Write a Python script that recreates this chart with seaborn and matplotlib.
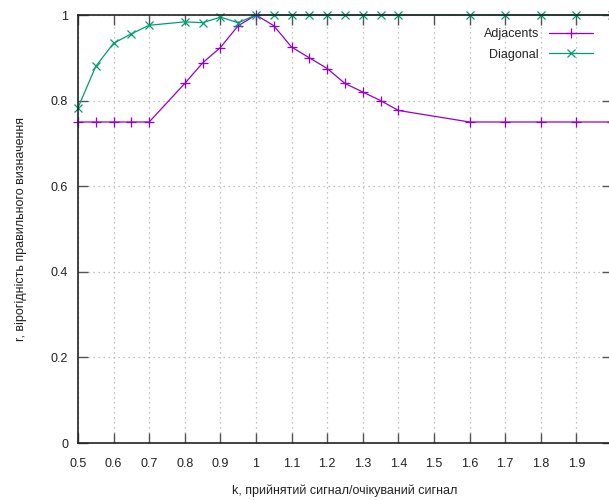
import seaborn as sns
import matplotlib.pyplot as plt
import pandas as pd

# data
adj_k = [0.5, 0.55, 0.6, 0.65, 0.7, 0.8, 0.85, 0.9, 0.95, 1.0, 1.05, 1.1, 1.15,
         1.2, 1.25, 1.3, 1.35, 1.4, 1.6, 1.7, 1.8, 1.9, 2.0]
adj_r = [0.75, 0.75, 0.75, 0.75, 0.75, 0.84, 0.888, 0.924, 0.975, 1.0, 0.975, 0.925, 0.9,
         0.875, 0.84, 0.82, 0.8, 0.777, 0.75, 0.75, 0.75, 0.75, 0.75]

diag_k = [0.5, 0.55, 0.6, 0.65, 0.7, 0.8, 0.85, 0.9, 0.95, 1.0, 1.05, 1.1, 1.15,
          1.2, 1.25, 1.3, 1.35, 1.4, 1.6, 1.7, 1.8, 1.9, 2.0]
diag_r = [0.783, 0.88, 0.934, 0.956, 0.976, 0.984, 0.982, 0.995, 0.982, 1.0, 1.0, 1.0, 1.0,
          1.0, 1.0, 1.0, 1.0, 1.0, 1.0, 1.0, 1.0, 1.0, 1.0]

x_ticks = [0.5, 0.6, 0.7, 0.8, 0.9, 1.0, 1.1, 1.2, 1.3, 1.4, 1.5, 1.6, 1.7, 1.8, 1.9, 2.0]
x_labels = ["0.5", "0.6", "0.7", "0.8", "0.9", "1", "1.1", "1.2", "1.3", "1.4",
            "1.5", "1.6", "1.7", "1.8", "1.9", "2"]
y_ticks = [0, 0.2, 0.4, 0.6, 0.8, 1.0]
y_labels = ["0", "0.2", "0.4", "0.6", "0.8", "1"]

purple = "#9400d3"
green = "#009e73"

sns.set_style("ticks")
plt.rcParams["font.family"] = ["Liberation Sans", "DejaVu Sans"]
plt.rcParams["font.size"] = 9

fig = plt.figure(figsize=(6.09, 5.0), dpi=100)
ax = fig.add_axes([0.128, 0.114, 0.877, 0.856])

df_adj = pd.DataFrame({"k": adj_k, "r": adj_r})
df_diag = pd.DataFrame({"k": diag_k, "r": diag_r})

sns.lineplot(data=df_adj, x="k", y="r", ax=ax, color=purple, lw=0.9,
             marker="+", markersize=7, markeredgewidth=0.9, markeredgecolor=purple,
             label="Adjacents", clip_on=False)
sns.lineplot(data=df_diag, x="k", y="r", ax=ax, color=green, lw=0.9,
             marker="x", markersize=6, markeredgewidth=0.9, markeredgecolor=green,
             label="Diagonal", clip_on=False)

ax.set_xlim(0.5, 2.0)
ax.set_ylim(0, 1)
ax.set_xticks(x_ticks)
ax.set_xticklabels(x_labels)
ax.set_yticks(y_ticks)
ax.set_yticklabels(y_labels)

ax.grid(True, color="#b0b0b0", linestyle=(0, (1, 3)), lw=0.9)
ax.tick_params(direction="in", top=True, right=True, length=7, width=1,
               color="#555555", labelcolor="#222222")
ax.tick_params(axis="x", pad=11)
ax.tick_params(axis="y", pad=7)
for s in ax.spines.values():
    s.set_visible(True)
    s.set_color("#222222")
    s.set_linewidth(1.2)

ax.set_xlabel("k, прийнятий сигнал/очікуваний сигнал", labelpad=10, color="#222222")
ax.set_ylabel("r, вірогідність правильного визначення", labelpad=17, color="#222222")

leg = ax.legend(loc="upper right", bbox_to_anchor=(0.985, 0.995), frameon=False,
                markerfirst=False, handlelength=3.5, labelspacing=0.65, fontsize=9)

fig.savefig("out.png", dpi=100)
